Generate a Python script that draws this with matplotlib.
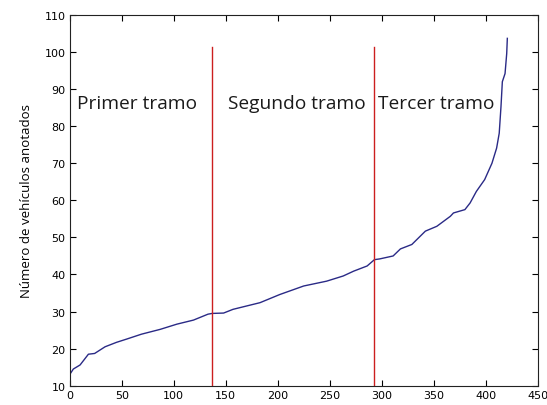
import matplotlib
matplotlib.use('Agg')
import matplotlib.pyplot as plt

# sorted counts of annotated vehicles (index, count)
idx = [0, 3.5, 10, 18, 24, 34, 45, 55, 69, 87, 103, 119, 133, 137, 148, 157,
       183, 202, 225, 247, 263, 273, 286, 293, 298, 311, 318, 329, 342, 353,
       366, 369, 380, 385, 391, 399, 406, 410.5, 413, 414.7, 416, 418.6, 420.2, 420.8]
counts = [13.0, 14.5, 15.6, 18.5, 18.7, 20.5, 21.7, 22.6, 23.9, 25.2, 26.6, 27.7, 29.3, 29.5, 29.6, 30.6,
          32.4, 34.6, 36.9, 38.2, 39.6, 40.9, 42.3, 44.0, 44.2, 45.0, 46.9, 48.1, 51.7, 53.0,
          55.7, 56.6, 57.5, 59.3, 62.4, 65.6, 70.0, 74.1, 78.1, 85.3, 92.0, 94.2, 99.6, 103.7]

# section boundaries and labels
bounds = [136.5, 292.6]
bound_top = 101.5
sections = ['Primer tramo', 'Segundo tramo', 'Tercer tramo']
section_x = [7, 152, 296]
section_y = 86.3

fig = plt.figure(figsize=(5.47, 4.06), dpi=100)
ax = fig.add_axes([0.1274, 0.0475, 0.8556, 0.9131])

ax.plot(idx, counts, color='#2a2a86', lw=1.0)
for b in bounds:
    ax.plot([b, b], [10, bound_top], color='#cc1f1f', lw=1.0)

for name, sx in zip(sections, section_x):
    ax.text(sx, section_y, name, fontsize=13.8, family='Open Sans',
            va='center', ha='left', color='#1a1a1a')

ax.set_xlim(0, 450)
ax.set_ylim(10, 110)
ax.set_xticks(range(0, 451, 50))
ax.set_yticks(range(10, 111, 10))
ax.tick_params(direction='in', top=True, right=True, labelsize=8,
               length=4, width=0.8, pad=3)
for s in ax.spines.values():
    s.set_linewidth(0.8)
    s.set_color('#222222')

ax.set_ylabel('Número de vehículos anotados', family='Open Sans', fontsize=9.5,
              labelpad=8)

fig.savefig('out.png', dpi=100)
